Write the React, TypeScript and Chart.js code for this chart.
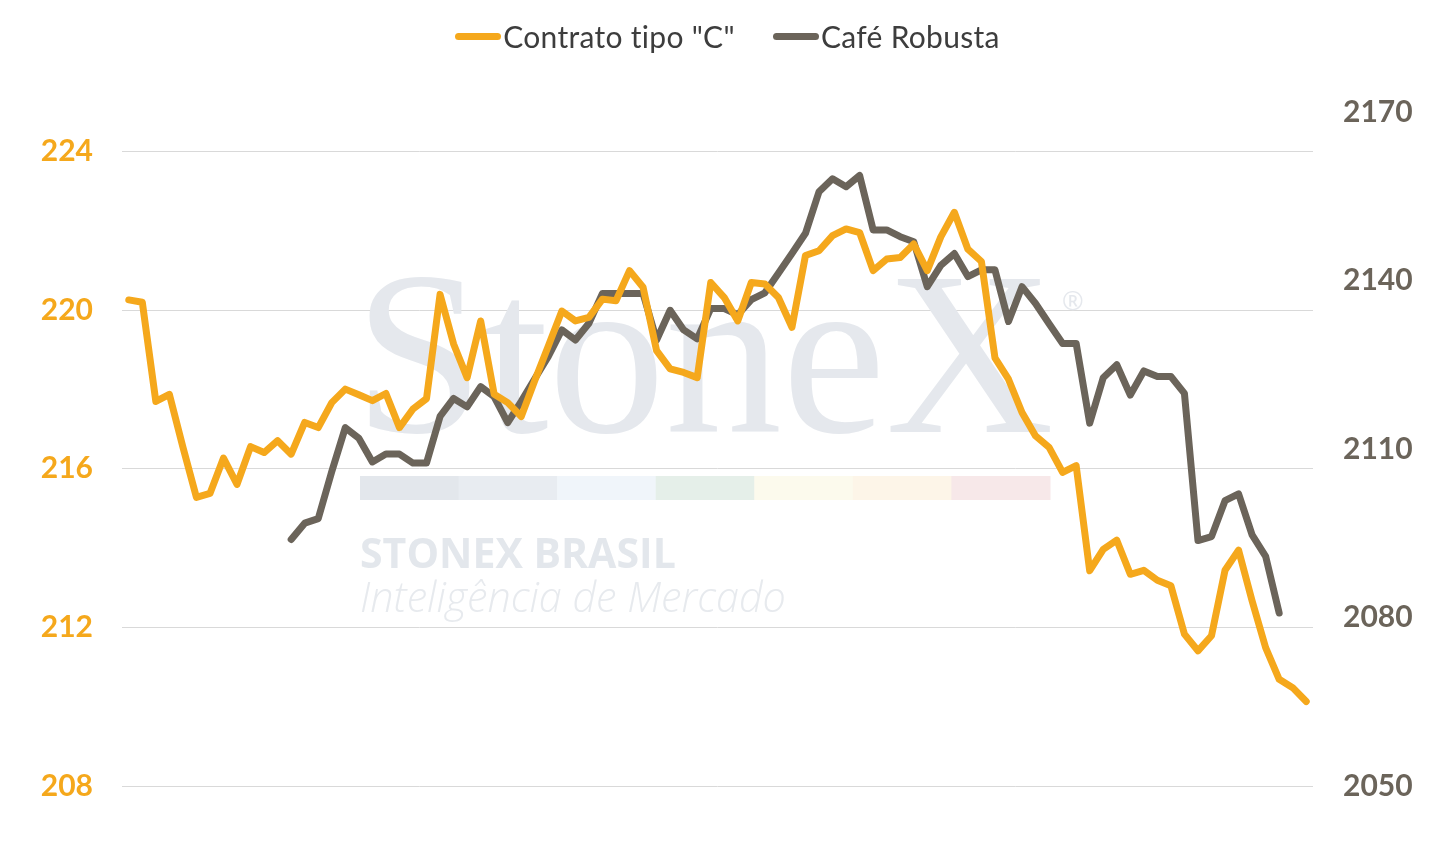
import React, { useEffect, useRef } from 'react';
import { Chart, registerables } from 'chart.js';

Chart.register(...registerables);

// 88 trading sessions, no date labels shown on the x axis
const sessions = Array.from({ length: 88 }, (_, i) => String(i + 1));

const contratoC = [
  220.26, 220.2, 217.7, 217.88, 216.55, 215.28, 215.38, 216.27, 215.61, 216.56,
  216.41, 216.71, 216.37, 217.17, 217.04, 217.67, 218.01, 217.87, 217.72, 217.9,
  217.04, 217.51, 217.77, 220.4, 219.15, 218.3, 219.73, 217.88, 217.67, 217.32,
  218.23, 219.1, 219.98, 219.73, 219.82, 220.28, 220.24, 221.0, 220.58, 218.98,
  218.52, 218.43, 218.3, 220.7, 220.32, 219.73, 220.7, 220.66, 220.32, 219.57,
  221.38, 221.5, 221.88, 222.05, 221.96, 221.0, 221.29, 221.33, 221.67, 221.0,
  221.85, 222.47, 221.54, 221.23, 218.8, 218.26, 217.42, 216.83, 216.54, 215.91,
  216.08, 213.43, 213.97, 214.2, 213.34, 213.44, 213.19, 213.05, 211.83, 211.41,
  211.79, 213.44, 213.95, 212.67, 211.49, 210.69, 210.48, 210.13,
];

const cafeRobusta = [
  null, null, null, null, null, null, null, null, null, null,
  null, null, 2093.9, 2096.8, 2097.6, 2106.0, 2113.8, 2111.9, 2107.7, 2109.1,
  2109.1, 2107.5, 2107.5, 2115.8, 2119.0, 2117.5, 2121.1, 2119.3, 2114.7, 2118.5,
  2122.5, 2126.5, 2131.2, 2129.4, 2132.4, 2137.7, 2137.7, 2137.7, 2137.7, 2129.4,
  2134.7, 2131.2, 2129.6, 2135.0, 2135.0, 2133.9, 2136.6, 2137.8, 2141.3, 2144.8,
  2148.4, 2155.8, 2158.1, 2156.7, 2158.7, 2149.0, 2149.0, 2147.8, 2146.9, 2138.9,
  2142.7, 2144.8, 2140.7, 2141.9, 2141.9, 2132.7, 2138.9, 2135.9, 2132.3, 2128.8,
  2128.8, 2114.6, 2122.7, 2125.0, 2119.6, 2123.9, 2122.9, 2122.9, 2119.9, 2093.7,
  2094.4, 2100.8, 2102.0, 2094.7, 2090.9, 2080.8, null, null,
];

const leftTicks = [208, 212, 216, 220, 224];
const rightTicks = [2050, 2080, 2110, 2140, 2170];

const ORANGE = '#F5A81C';
const GRAY = '#6B645A';

const series = [
  { label: 'Contrato tipo "C"', color: ORANGE },
  { label: 'Café Robusta', color: GRAY },
];

// draws text so that it spans a given width
function fitText(ctx, text, style, family, width, x, y) {
  ctx.font = `${style} 100px ${family}`;
  const size = (100 * width) / ctx.measureText(text).width;
  ctx.font = `${style} ${size}px ${family}`;
  ctx.fillText(text, x, y);
}

// faint StoneX watermark behind the lines
const watermark = {
  id: 'watermark',
  beforeDatasetsDraw(chart) {
    const { ctx, chartArea } = chart;
    const x0 = chartArea.left + 238;
    const y0 = chartArea.top;
    ctx.save();
    ctx.textAlign = 'left';
    ctx.textBaseline = 'alphabetic';

    ctx.fillStyle = '#E5E8ED';
    fitText(ctx, 'StoneX', '', '"Liberation Serif"', 700, x0 - 6, y0 + 320);
    ctx.font = '26px "Open Sans"';
    ctx.textBaseline = 'middle';
    ctx.fillText('®', x0 + 702, y0 + 191);
    ctx.textBaseline = 'alphabetic';

    const bandColors = ['#E3E7EC', '#E8ECF1', '#F0F5FA', '#E5EFE9', '#FCFAED', '#FDF5E8', '#F7E8E9'];
    const segW = 690 / bandColors.length;
    bandColors.forEach((c, i) => {
      ctx.fillStyle = c;
      ctx.fillRect(x0 + i * segW, y0 + 364, segW + 0.5, 24);
    });

    ctx.fillStyle = '#E3E7EC';
    fitText(ctx, 'STONEX BRASIL', 'bold', '"Open Sans"', 316, x0, y0 + 456);
    ctx.fillStyle = '#E7EAEE';
    fitText(ctx, 'Inteligência de Mercado', 'italic 300', '"Open Sans"', 426, x0, y0 + 500);
    ctx.restore();
  },
};

export default function App() {
  const chartRef = useRef<HTMLCanvasElement>(null);

  useEffect(() => {
    if (!chartRef.current) return;
    Chart.defaults.font.family = 'Lato';

    const chart = new Chart(chartRef.current, {
      type: 'line',
      data: {
        labels: sessions,
        datasets: [
          {
            label: series[0].label,
            data: contratoC,
            yAxisID: 'y',
            borderColor: ORANGE,
            backgroundColor: ORANGE,
            borderWidth: 7,
          },
          {
            label: series[1].label,
            data: cafeRobusta,
            yAxisID: 'y1',
            borderColor: GRAY,
            backgroundColor: GRAY,
            borderWidth: 7,
          },
        ],
      },
      options: {
        animation: false,
        responsive: true,
        maintainAspectRatio: false,
        layout: { padding: { top: 104, bottom: 48, left: 0, right: 0 } },
        elements: {
          line: { tension: 0, borderCapStyle: 'round', borderJoinStyle: 'round' },
          point: { radius: 0, hoverRadius: 0 },
        },
        scales: {
          x: {
            type: 'category',
            offset: true,
            display: false,
          },
          y: {
            position: 'left',
            min: 208,
            max: 225,
            afterBuildTicks: (scale) => {
              scale.ticks = leftTicks.map((v) => ({ value: v }));
            },
            afterFit: (scale) => {
              scale.width = 114;
            },
            grid: { color: '#D9D9D9', lineWidth: 1, drawTicks: false },
            border: { display: false },
            ticks: {
              color: ORANGE,
              padding: 29,
              font: { size: 30, weight: 'bold' },
              callback: (v) => String(v),
            },
          },
          y1: {
            position: 'right',
            min: 2050,
            max: 2170,
            afterBuildTicks: (scale) => {
              scale.ticks = rightTicks.map((v) => ({ value: v }));
            },
            afterFit: (scale) => {
              scale.width = 134;
            },
            grid: { display: false, drawTicks: false },
            border: { display: false },
            ticks: {
              color: GRAY,
              padding: 30,
              font: { size: 30, weight: 'bold' },
              callback: (v) => String(v),
            },
          },
        },
        plugins: {
          legend: { display: false },
          tooltip: { enabled: false },
        },
      },
      plugins: [watermark],
    });

    return () => {
      chart.destroy();
    };
  }, []);

  return (
    <div style={{ position: 'relative', width: 1439, height: 826 }}>
      <canvas ref={chartRef} />
      <div
        style={{
          position: 'absolute',
          top: 8,
          left: 0,
          right: 0,
          height: 40,
          display: 'flex',
          justifyContent: 'center',
          alignItems: 'center',
          gap: 38,
          fontFamily: 'Lato',
          fontSize: 30,
          letterSpacing: 0.3,
          color: '#3D3D3D',
        }}
      >
        {series.map((s) => (
          <div key={s.label} style={{ display: 'flex', alignItems: 'center' }}>
            <span
              style={{ display: 'inline-block', width: 46, height: 7, borderRadius: 3.5, background: s.color, marginRight: 2 }}
            />
            <span>{s.label}</span>
          </div>
        ))}
      </div>
    </div>
  );
}
